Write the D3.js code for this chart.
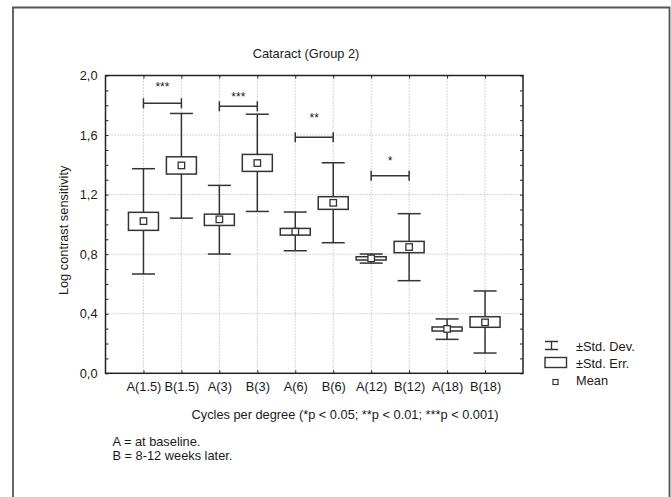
<!DOCTYPE html>
<html>
<head>
<meta charset="utf-8">
<script src="https://cdn.jsdelivr.net/npm/d3@7"></script>
<style>
  body { margin: 0; background: #fff; }
  text { font-family: "Liberation Sans", Arial, sans-serif; fill: #1a1a1a; }
</style>
</head>
<body>
<script>
// values (log contrast sensitivity)
const categories = ['A(1.5)', 'B(1.5)', 'A(3)', 'B(3)', 'A(6)', 'B(6)', 'A(12)', 'B(12)', 'A(18)', 'B(18)'];
const means  = [1.022, 1.396, 1.034, 1.412, 0.951, 1.145, 0.772, 0.848, 0.298, 0.342];
const seLow  = [0.960, 1.338, 0.993, 1.356, 0.928, 1.101, 0.761, 0.810, 0.284, 0.309];
const seHigh = [1.081, 1.454, 1.069, 1.470, 0.973, 1.186, 0.783, 0.886, 0.311, 0.380];
const sdLow  = [0.667, 1.042, 0.801, 1.087, 0.823, 0.877, 0.740, 0.622, 0.228, 0.136];
const sdHigh = [1.374, 1.745, 1.262, 1.740, 1.083, 1.414, 0.801, 1.072, 0.365, 0.553];
const yTicks = [0, 0.4, 0.8, 1.2, 1.6, 2.0];
// significance brackets
const sigFrom  = ['A(1.5)', 'A(3)', 'A(6)', 'A(12)'];
const sigTo    = ['B(1.5)', 'B(3)', 'B(6)', 'B(12)'];
const sigLevel = [1.813, 1.793, 1.585, 1.327];
const sigStar  = [1.941, 1.878, 1.733, 1.448];
const sigText  = ['***', '***', '**', '*'];
const legendLabels = ['±Std. Dev.', '±Std. Err.', 'Mean'];

const W = 671, H = 497;
const pLeft = 105.5, pRight = 523, pTop = 75.5, pBottom = 373.3;

const svg = d3.select('body').append('svg')
  .attr('width', W)
  .attr('height', H);

// outer frame (bottom edge runs off the picture)
svg.append('path')
  .attr('d', `M13,${H + 5} V7.5 H669.5 V${H + 5}`)
  .attr('fill', 'none')
  .attr('stroke', '#555')
  .attr('stroke-width', 1.8);

const x = d3.scalePoint().domain(categories).range([pLeft, pRight]).padding(1);
const y = d3.scaleLinear().domain([0, 2]).range([pBottom, pTop]);
const fmt = d => d3.format('.1f')(d).replace('.', ',');

// grid
svg.append('g').selectAll('line')
  .data(yTicks.filter(d => d > 0 && d < 2))
  .enter().append('line')
  .attr('x1', pLeft).attr('x2', pRight)
  .attr('y1', d => y(d)).attr('y2', d => y(d))
  .attr('stroke', '#aaa').attr('stroke-dasharray', '1,2');

svg.append('g').selectAll('line')
  .data(categories)
  .enter().append('line')
  .attr('x1', d => x(d)).attr('x2', d => x(d))
  .attr('y1', pTop).attr('y2', pBottom)
  .attr('stroke', '#aaa').attr('stroke-dasharray', '1,2');

// minor ticks all round, pointing inwards
const minor = d3.range(0, 2.0001, 0.1);
const tickStyle = g => {
  g.select('.domain').remove();
  g.selectAll('.tick line').attr('stroke', '#222');
  g.selectAll('.tick text').remove();
};
svg.append('g').attr('transform', `translate(${pLeft},0)`)
  .call(d3.axisRight(y).tickValues(minor).tickSize(3)).call(tickStyle);
svg.append('g').attr('transform', `translate(${pRight},0)`)
  .call(d3.axisLeft(y).tickValues(minor).tickSize(3)).call(tickStyle);
svg.append('g').attr('transform', `translate(0,${pBottom})`)
  .call(d3.axisTop(x).tickSize(3)).call(tickStyle);
svg.append('g').attr('transform', `translate(0,${pTop})`)
  .call(d3.axisBottom(x).tickSize(3)).call(tickStyle);

// tick labels
const yAxis = svg.append('g').attr('transform', `translate(${pLeft},0)`)
  .call(d3.axisLeft(y).tickValues(yTicks).tickFormat(fmt).tickSize(0).tickPadding(8));
yAxis.select('.domain').remove();
yAxis.selectAll('text').style('font-size', '12.8px').style('font-family', '"Liberation Sans", Arial, sans-serif').attr('fill', '#1a1a1a');

const xAxis = svg.append('g').attr('transform', `translate(0,${pBottom})`)
  .call(d3.axisBottom(x).tickSize(0).tickPadding(9));
xAxis.select('.domain').remove();
xAxis.selectAll('text').style('font-size', '12.8px').style('font-family', '"Liberation Sans", Arial, sans-serif').attr('fill', '#1a1a1a');

// plot frame
svg.append('rect')
  .attr('x', pLeft).attr('y', pTop)
  .attr('width', pRight - pLeft).attr('height', pBottom - pTop)
  .attr('fill', 'none').attr('stroke', '#222').attr('stroke-width', 1.5);

// box plots
const rows = categories.map((c, i) => ({
  c, mean: means[i], seL: seLow[i], seH: seHigh[i], sdL: sdLow[i], sdH: sdHigh[i]
}));
const boxW = 30, capW = 23, meanS = 6.5;
const stroke = '#333';

const grp = svg.append('g').selectAll('g')
  .data(rows)
  .enter().append('g')
  .attr('transform', d => `translate(${x(d.c)},0)`);

grp.append('line')
  .attr('y1', d => y(d.sdL)).attr('y2', d => y(d.sdH))
  .attr('stroke', stroke).attr('stroke-width', 1.5);
grp.append('line')
  .attr('x1', -capW / 2).attr('x2', capW / 2)
  .attr('y1', d => y(d.sdH)).attr('y2', d => y(d.sdH))
  .attr('stroke', stroke).attr('stroke-width', 1.5);
grp.append('line')
  .attr('x1', -capW / 2).attr('x2', capW / 2)
  .attr('y1', d => y(d.sdL)).attr('y2', d => y(d.sdL))
  .attr('stroke', stroke).attr('stroke-width', 1.5);
grp.append('rect')
  .attr('x', -boxW / 2).attr('width', boxW)
  .attr('y', d => y(d.seH)).attr('height', d => y(d.seL) - y(d.seH))
  .attr('fill', '#fff').attr('stroke', stroke).attr('stroke-width', 1.5);
grp.append('rect')
  .attr('x', -meanS / 2).attr('width', meanS)
  .attr('y', d => y(d.mean) - meanS / 2).attr('height', meanS)
  .attr('fill', '#fff').attr('stroke', stroke).attr('stroke-width', 1.3);

// significance brackets
const sig = sigFrom.map((f, i) => ({ x1: x(f), x2: x(sigTo[i]), lv: sigLevel[i], st: sigStar[i], t: sigText[i] }));
const sg = svg.append('g').selectAll('g').data(sig).enter().append('g');
sg.append('path')
  .attr('d', d => `M${d.x1},${y(d.lv) - 5}V${y(d.lv) + 5}M${d.x1},${y(d.lv)}H${d.x2}M${d.x2},${y(d.lv) - 5}V${y(d.lv) + 5}`)
  .attr('fill', 'none').attr('stroke', stroke).attr('stroke-width', 1.5);
sg.append('text')
  .attr('x', d => (d.x1 + d.x2) / 2)
  .attr('y', d => y(d.st) + 7)
  .attr('text-anchor', 'middle')
  .style('font-size', '12px')
  .text(d => d.t);

// titles
svg.append('text')
  .attr('x', 306).attr('y', 58)
  .attr('text-anchor', 'middle')
  .style('font-size', '12.8px')
  .text('Cataract (Group 2)');

svg.append('text')
  .attr('transform', `translate(68,${(pTop + pBottom) / 2 + 6}) rotate(-90)`)
  .attr('text-anchor', 'middle')
  .style('font-size', '12.8px')
  .text('Log contrast sensitivity');

svg.append('text')
  .attr('x', 345).attr('y', 418.5)
  .attr('text-anchor', 'middle')
  .style('font-size', '12.8px')
  .text('Cycles per degree (*p < 0.05; **p < 0.01; ***p < 0.001)');

svg.append('text').attr('x', 112.5).attr('y', 445.5).style('font-size', '12.8px').text('A = at baseline.');
svg.append('text').attr('x', 112.5).attr('y', 460).style('font-size', '12.8px').text('B = 8-12 weeks later.');

// legend
const lg = svg.append('g').attr('transform', 'translate(545,0)');
lg.append('path')
  .attr('d', 'M0,341.5H13M6.5,341.5V349.5M0,349.5H13')
  .attr('fill', 'none').attr('stroke', stroke).attr('stroke-width', 1.4);
lg.append('rect')
  .attr('x', 0).attr('y', 357.5).attr('width', 21.5).attr('height', 10)
  .attr('fill', '#fff').attr('stroke', stroke).attr('stroke-width', 1.4);
lg.append('rect')
  .attr('x', 8).attr('y', 379.5).attr('width', 5).attr('height', 5)
  .attr('fill', '#fff').attr('stroke', stroke).attr('stroke-width', 1.2);
lg.selectAll('text.lab')
  .data(legendLabels)
  .enter().append('text')
  .attr('class', 'lab')
  .attr('x', 31)
  .attr('y', (d, i) => 350.5 + i * 17.3)
  .style('font-size', '12.8px')
  .text(d => d);
</script>
</body>
</html>
